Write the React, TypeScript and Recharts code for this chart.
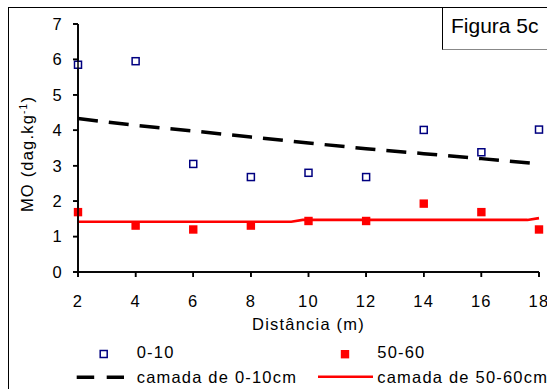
import React from "react";
import {
  ComposedChart,
  Line,
  Scatter,
  XAxis,
  YAxis,
  ReferenceLine,
} from "recharts";

// distância (m)
const distances = [2, 4, 6, 8, 10, 12, 14, 16, 18];
// MO observado, camada 0-10
const mo0to10 = [5.85, 5.95, 3.05, 2.68, 2.8, 2.68, 4.01, 3.38, 4.02];
// MO observado, camada 50-60
const mo50to60 = [1.69, 1.31, 1.2, 1.31, 1.44, 1.44, 1.93, 1.69, 1.2];

// linhas ajustadas
const fit0to10X = [2, 4, 6, 8, 10, 12, 14, 16, 18];
const fit0to10Y = [4.33, 4.14, 3.98, 3.81, 3.64, 3.48, 3.34, 3.2, 3.05];
const fit50to60X = [2, 9.4, 9.8, 17.6, 18];
const fit50to60Y = [1.42, 1.42, 1.47, 1.47, 1.52];

const xTicks = [2, 4, 6, 8, 10, 12, 14, 16, 18];
const yTicks = [0, 1, 2, 3, 4, 5, 6, 7];

const FONT = "'Liberation Sans', Arial, sans-serif";
const SIZE = 16.5;
const SPACING = 1.2;
const TICK = 5;
const X_GAP = 18;
const Y_GAP = 10;

// caixa do gráfico
const W = 547;
const H = 389;
const M = { top: 24, right: 8, left: 0, bottom: 87 };
const Y_W = 78;
const X_H = 30;
const PL = M.left + Y_W;
const PR = W - M.right;
const PT = M.top;
const PB = H - M.bottom - X_H;

const pts0 = distances.map((x, i) => ({ x, y: mo0to10[i] }));
const pts50 = distances.map((x, i) => ({ x, y: mo50to60[i] }));
const line0 = fit0to10X.map((x, i) => ({ x, y: fit0to10Y[i] }));
const line50 = fit50to60X.map((x, i) => ({ x, y: fit50to60Y[i] }));

const txt = {
  fontSize: SIZE,
  fontFamily: FONT,
  letterSpacing: SPACING,
  fill: "#000",
};

const OpenSquare = (props: any) => {
  const { cx, cy } = props;
  return (
    <rect
      x={cx - 3.5}
      y={cy - 3.5}
      width={7}
      height={7}
      fill="#fff"
      stroke="#000080"
      strokeWidth={1.5}
    />
  );
};

const FilledSquare = (props: any) => {
  const { cx, cy } = props;
  return <rect x={cx - 4.2} y={cy - 4.2} width={8.4} height={8.4} fill="#ff0000" />;
};

const XTick = (props: any) => {
  const { x, y, payload } = props;
  const axisY = y - TICK - X_GAP;
  return (
    <g>
      <path d={`M${x},${axisY}V${axisY + TICK}`} stroke="#000" strokeWidth={1.5} fill="none" />
      <text x={x} y={y} dy="0.71em" textAnchor="middle" {...txt}>
        {payload.value}
      </text>
    </g>
  );
};

const YTick = (props: any) => {
  const { x, y, payload } = props;
  const axisX = x + TICK + Y_GAP;
  return (
    <g>
      <path d={`M${axisX - TICK},${y}H${axisX}`} stroke="#000" strokeWidth={1.5} fill="none" />
      <text x={x} y={y} dy="0.355em" textAnchor="end" {...txt}>
        {payload.value}
      </text>
    </g>
  );
};

const AxisPath = (props: any) => {
  const { x1, y1, x2, y2 } = props;
  if ([x1, y1, x2, y2].some((v) => typeof v !== "number" || isNaN(v))) return null;
  return <path d={`M${x1},${y1}L${x2},${y2}`} stroke="#000" strokeWidth={1.5} fill="none" />;
};

const xPos = (v: number) => PL + ((v - 2) / 16) * (PR - PL);
const yPos = (v: number) => PB - (v / 7) * (PB - PT);

export default function App() {
  return (
    <div style={{ position: "absolute", left: 0, top: 0, width: W, height: H, overflow: "hidden", background: "#fff" }}>
      <div
        style={{
          position: "absolute",
          left: 8,
          top: 7,
          width: 600,
          height: 420,
          border: "1px solid #000",
        }}
      />
      <div style={{ position: "absolute", left: 0, top: 0 }}>
        <ComposedChart width={W} height={H} margin={M}>
          <XAxis
            type="number"
            dataKey="x"
            domain={[2, 18]}
            ticks={xTicks}
            height={X_H}
            stroke="#000"
            tickSize={TICK}
            tickMargin={X_GAP}
            tick={<XTick />}
          />
          <YAxis
            type="number"
            dataKey="y"
            domain={[0, 7]}
            ticks={yTicks}
            width={Y_W}
            stroke="#000"
            tickSize={TICK}
            tickMargin={Y_GAP}
            tick={<YTick />}
          />
          <ReferenceLine y={0} shape={<AxisPath />} />
          <ReferenceLine x={2} shape={<AxisPath />} />
          <Line
            data={line0}
            dataKey="y"
            type="linear"
            stroke="#000"
            strokeWidth={3.5}
            strokeDasharray="20 11"
            dot={false}
            isAnimationActive={false}
          />
          <Line
            data={line50}
            dataKey="y"
            type="linear"
            stroke="#ff0000"
            strokeWidth={2.6}
            dot={false}
            isAnimationActive={false}
          />
          <Scatter data={pts0} dataKey="y" shape={<OpenSquare />} isAnimationActive={false} />
          <Scatter data={pts50} dataKey="y" shape={<FilledSquare />} isAnimationActive={false} />
        </ComposedChart>
      </div>
      <div
        style={{
          position: "absolute",
          left: 442,
          top: 7,
          width: 120,
          height: 41,
          borderLeft: "1px solid #000",
          borderTop: "1px solid #000",
          borderBottom: "1.5px solid #888",
          background: "#fff",
        }}
      >
        <span
          style={{
            position: "absolute",
            left: 8,
            top: 6,
            fontFamily: FONT,
            fontSize: 21,
            lineHeight: "24px",
            color: "#000",
            whiteSpace: "nowrap",
          }}
        >
          Figura 5c
        </span>
      </div>
      <svg width={W} height={H} style={{ position: "absolute", left: 0, top: 0, pointerEvents: "none" }}>
        {/* eixos (reforço) */}
        <line x1={PL} y1={PT} x2={PL} y2={PB} stroke="#000" strokeWidth={1.5} />
        <line x1={PL} y1={PB} x2={PR} y2={PB} stroke="#000" strokeWidth={1.5} />
        {xTicks.map((v) => (
          <line key={`xt${v}`} x1={xPos(v)} y1={PB} x2={xPos(v)} y2={PB + TICK} stroke="#000" strokeWidth={1.5} />
        ))}
        {yTicks.map((v) => (
          <line key={`yt${v}`} x1={PL - TICK} y1={yPos(v)} x2={PL} y2={yPos(v)} stroke="#000" strokeWidth={1.5} />
        ))}
        <text x={(PL + PR) / 2} y={330} textAnchor="middle" {...txt}>Distância (m)</text>
        <text x={33} y={154} transform="rotate(-90, 33, 154)" textAnchor="middle" {...txt}>
          MO (dag.kg
          <tspan fontSize={10} dy={-6}>-1</tspan>
          <tspan dy={6}>)</tspan>
        </text>
        <rect x={100.2} y={350.5} width={7} height={7} fill="#fff" stroke="#000080" strokeWidth={1.5} />
        <text x={136.7} y={358.4} {...txt}>0-10</text>
        <rect x={340.8} y={350} width={8.4} height={8.4} fill="#ff0000" />
        <text x={377.3} y={358.4} {...txt}>50-60</text>
        <line x1={76.7} y1={377.3} x2={124} y2={377.3} stroke="#000" strokeWidth={3.5} strokeDasharray="17.5 12.5" />
        <text x={136.7} y={383.2} {...txt}>camada de 0-10cm</text>
        <line x1={318} y1={376.8} x2={373} y2={376.8} stroke="#ff0000" strokeWidth={2.6} />
        <text x={377.3} y={383.2} {...txt}>camada de 50-60cm</text>
      </svg>
    </div>
  );
}
